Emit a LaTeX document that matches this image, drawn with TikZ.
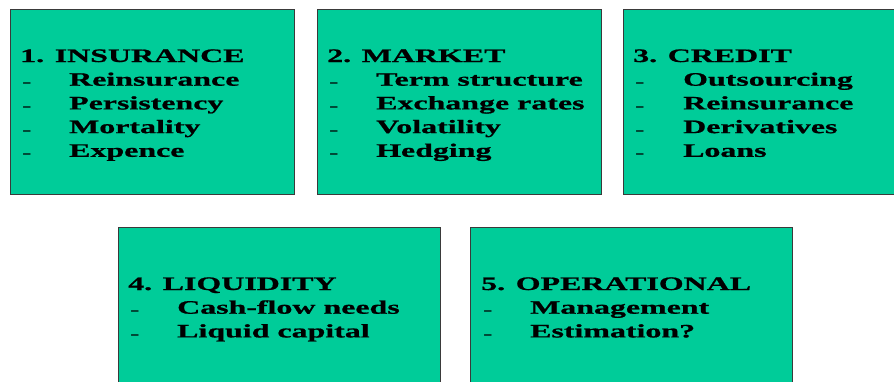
\documentclass[tikz,border=0pt]{standalone}
\usepackage{fontspec}
\setmainfont{Liberation Serif}[FakeStretch=1.68,BoldFeatures={FakeBold=0.9}]
\definecolor{boxgreen}{HTML}{00CC99}
\definecolor{boxline}{HTML}{3A3A3A}
\begin{document}
\begin{tikzpicture}[x=1pt,y=-1pt,
  box/.style={draw=boxline, fill=boxgreen, line width=1pt},
  txt/.style={anchor=base west, inner sep=0pt, font=\fontsize{19}{23.7}\selectfont\bfseries},
  dashmark/.style={anchor=base west, inner sep=0pt, font=\fontsize{17}{23.7}\selectfont}]
\useasboundingbox (0,0) rectangle (894,381);
\clip (0,0) rectangle (894,381);
\fill[white] (0,0) rectangle (894,381);
% boxes
\draw[box] (10,9) rectangle (294,194) node[pos=0.5, inner sep=0] (b1) {};
\draw[box] (317,9) rectangle (601,194) node[pos=0.5, inner sep=0] (b2) {};
\draw[box] (623,9) rectangle (910,194) node[pos=0.5, inner sep=0] (b3) {};
\draw[box] (118,227) rectangle (440,400) node[pos=0.5, inner sep=0] (b4) {};
\draw[box] (470,227) rectangle (792,400) node[pos=0.5, inner sep=0] (b5) {};
% box 1
\node[txt] (h1) at (20,62) {1. INSURANCE};
\foreach \t [count=\i] in {Reinsurance,Persistency,Mortality,Expence}{
  \node[dashmark] (d1\i) at (22,64+23.7*\i) {-};
  \node[txt] (t1\i) at (69,62+23.7*\i) {\t};
}
% box 2
\node[txt] (h2) at (327,62) {2. MARKET};
\foreach \t [count=\i] in {Term structure,Exchange rates,Volatility,Hedging}{
  \node[dashmark] (d2\i) at (329,64+23.7*\i) {-};
  \node[txt] (t2\i) at (376,62+23.7*\i) {\t};
}
% box 3
\node[txt] (h3) at (633,62) {3. CREDIT};
\foreach \t [count=\i] in {Outsourcing,Reinsurance,Derivatives,Loans}{
  \node[dashmark] (d3\i) at (635,64+23.7*\i) {-};
  \node[txt] (t3\i) at (683,62+23.7*\i) {\t};
}
% box 4
\node[txt] (h4) at (128,290) {4. LIQUIDITY};
\foreach \t [count=\i] in {Cash-flow needs,Liquid capital}{
  \node[dashmark] (d4\i) at (130,292+23.7*\i) {-};
  \node[txt] (t4\i) at (177,290+23.7*\i) {\t};
}
% box 5
\node[txt] (h5) at (481,290) {5. OPERATIONAL};
\foreach \t [count=\i] in {Management,Estimation?}{
  \node[dashmark] (d5\i) at (483,292+23.7*\i) {-};
  \node[txt] (t5\i) at (530,290+23.7*\i) {\t};
}
\end{tikzpicture}
\end{document}
